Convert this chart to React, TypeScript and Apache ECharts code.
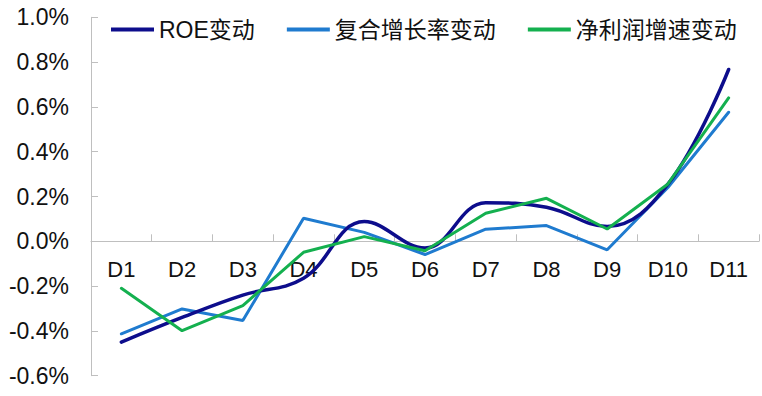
import React, { useEffect, useRef } from "react";
import * as echarts from "echarts";

const categories = ["D1", "D2", "D3", "D4", "D5", "D6", "D7", "D8", "D9", "D10", "D11"];
const roeChange = [-0.45, -0.34, -0.24, -0.165, 0.088, -0.03, 0.172, 0.152, 0.066, 0.255, 0.767];
const cagrChange = [-0.413, -0.302, -0.354, 0.103, 0.04, -0.059, 0.054, 0.07, -0.038, 0.24, 0.576];
const profitGrowthChange = [-0.21, -0.399, -0.287, -0.049, 0.021, -0.042, 0.125, 0.192, 0.055, 0.256, 0.64];
const seriesNames = ["ROE变动", "复合增长率变动", "净利润增速变动"];
const yTicks = { min: -0.6, max: 1.0, interval: 0.2 };

export default function App() {
  const ref = useRef<HTMLDivElement>(null);
  useEffect(() => {
    document.body.style.margin = "0";
    const chart = echarts.init(ref.current!, null, { renderer: "svg" });
    const font = "'Liberation Sans', Arial, 'Noto Sans CJK SC', sans-serif";
    const H = 396;
    const top = 17.3;
    const bottom = 20.3;
    const plotH = H - top - bottom;
    const zeroY = top + plotH * (yTicks.max / (yTicks.max - yTicks.min));
    chart.setOption({
      animation: false,
      backgroundColor: "#ffffff",
      grid: [
        { left: 91, right: 3, top, bottom, containLabel: false, outerBoundsMode: "none" },
        { left: 91, right: 3, top, bottom: H - zeroY, containLabel: false, outerBoundsMode: "none" },
      ],
      legend: {
        left: 111,
        top: 18,
        padding: 0,
        itemGap: 32,
        itemWidth: 43,
        itemHeight: 4,
        icon: "rect",
        textStyle: { fontFamily: font, fontSize: 23, color: "#111" },
        data: seriesNames,
      },
      xAxis: [
        {
          type: "category",
          gridIndex: 0,
          data: categories,
          boundaryGap: true,
          axisLine: { show: false },
          axisTick: { show: false },
          axisLabel: { show: false },
          splitLine: { show: false },
        },
        {
          type: "category",
          gridIndex: 1,
          data: categories,
          boundaryGap: true,
          position: "bottom",
          axisLine: { show: true, onZero: false, lineStyle: { color: "#bfbfbf", width: 1 } },
          axisTick: { show: true, inside: true, length: 7, lineStyle: { color: "#bfbfbf" } },
          axisLabel: { fontFamily: font, fontSize: 22, color: "#111", margin: 17, interval: 0 },
          splitLine: { show: false },
        },
      ],
      yAxis: [
        {
          type: "value",
          gridIndex: 0,
          min: yTicks.min,
          max: yTicks.max,
          interval: yTicks.interval,
          axisLine: { show: true, lineStyle: { color: "#bfbfbf", width: 1 } },
          axisTick: { show: true, inside: true, length: 7, lineStyle: { color: "#bfbfbf" } },
          axisLabel: {
            fontFamily: font,
            fontSize: 23,
            color: "#111",
            margin: 22,
            formatter: (v: number) => `${v.toFixed(1)}%`,
          },
          splitLine: { show: false },
        },
        {
          type: "value",
          gridIndex: 1,
          min: 0,
          max: yTicks.max,
          show: false,
        },
      ],
      series: [
        {
          name: seriesNames[0],
          type: "line",
          data: roeChange,
          smooth: 0.4,
          symbol: "none",
          z: 3,
          itemStyle: { color: "#0d0d8c" },
          lineStyle: { color: "#0d0d8c", width: 3.5, cap: "round" },
        },
        {
          name: seriesNames[1],
          type: "line",
          data: cagrChange,
          symbol: "none",
          z: 2,
          itemStyle: { color: "#1f7bcf" },
          lineStyle: { color: "#1f7bcf", width: 3, cap: "round" },
        },
        {
          name: seriesNames[2],
          type: "line",
          data: profitGrowthChange,
          symbol: "none",
          z: 4,
          itemStyle: { color: "#14b04f" },
          lineStyle: { color: "#14b04f", width: 3, cap: "round" },
        },
      ],
    });
    return () => chart.dispose();
  }, []);
  return <div ref={ref} style={{ position: "absolute", left: 0, top: 0, width: 762, height: 396 }} />;
}
